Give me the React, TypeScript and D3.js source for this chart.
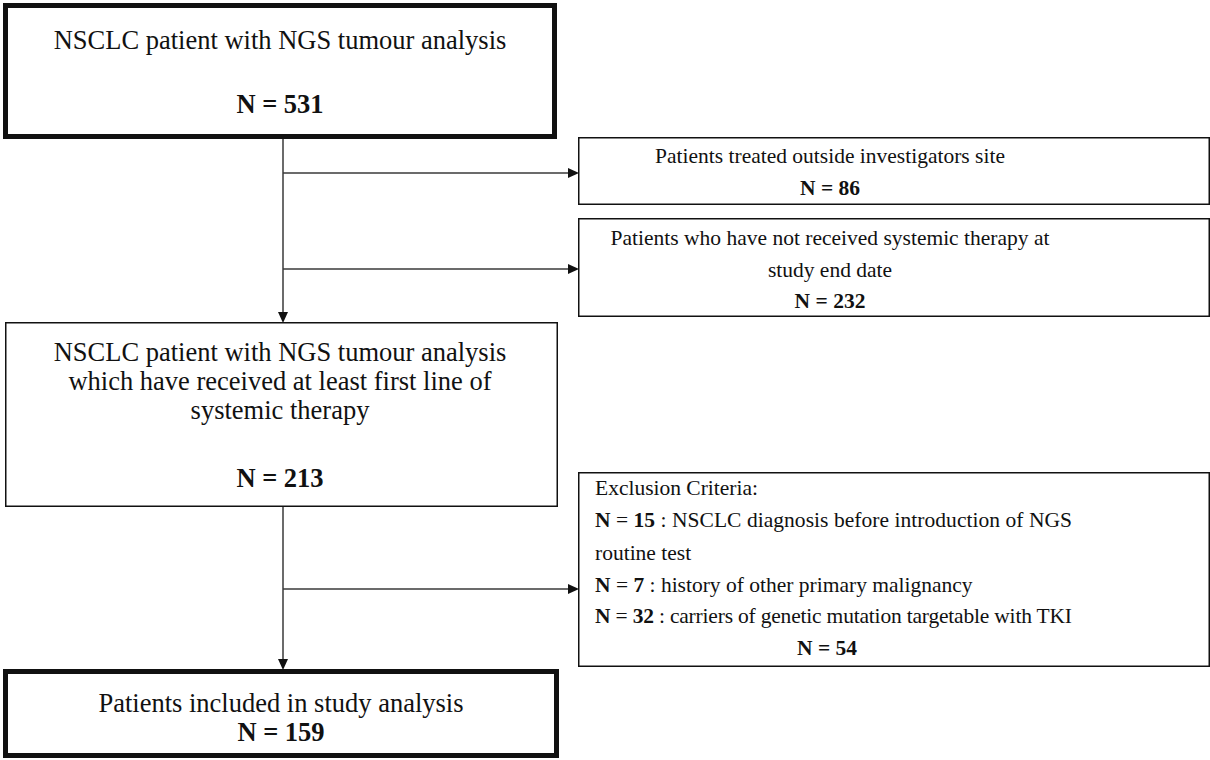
import {useEffect, useRef} from "react";
import * as d3 from "d3";

const WIDTH = 1210;
const HEIGHT = 760;

// main flow (left column)
const mainLabels = [
  ["NSCLC patient with NGS tumour analysis"],
  ["NSCLC patient with NGS tumour analysis", "which have received at least first line of", "systemic therapy"],
  ["Patients included in study analysis"],
];
const mainCounts = [531, 213, 159];

// exclusions (right column)
const exclusionLabels = [
  ["Patients treated outside investigators site"],
  ["Patients who have not received systemic therapy at", "study end date"],
];
const exclusionCounts = [86, 232];

const criteriaTitle = "Exclusion Criteria:";
const criteriaCounts = [15, 7, 32];
const criteriaLabels = [
  ["NSCLC diagnosis before introduction of NGS", "routine test"],
  ["history of other primary malignancy"],
  ["carriers of genetic mutation targetable with TKI"],
];
const criteriaTotal = 54;

const FONT = "'Liberation Serif', 'Times New Roman', serif";
const FS_MAIN = 26.5;
const FS_SIDE = 21.5;
const LINE = "#3a3a3a";

export default function App() {
  const svgRef = useRef<SVGSVGElement>(null);

  useEffect(() => {
    const svg = d3.select(svgRef.current);
    svg.selectAll("*").remove();

    const g = svg.append("g")
      .attr("font-family", FONT)
      .attr("fill", "#111");

    const box = (x0, y0, x1, y1, sw) =>
      g.append("rect")
        .attr("x", x0 + sw / 2)
        .attr("y", y0 + sw / 2)
        .attr("width", x1 - x0 - sw)
        .attr("height", y1 - y0 - sw)
        .attr("fill", "white")
        .attr("stroke", "#111")
        .attr("stroke-width", sw);

    const centered = (cx, lines, baselines, count, countY, fs) => {
      g.selectAll(null)
        .data(lines)
        .join("text")
        .attr("x", cx)
        .attr("y", (d, i) => baselines[i])
        .attr("font-size", fs)
        .attr("text-anchor", "middle")
        .text(d => d);
      g.append("text")
        .attr("x", cx)
        .attr("y", countY)
        .attr("font-size", fs)
        .attr("text-anchor", "middle")
        .attr("font-weight", "bold")
        .text(`N = ${count}`);
    };

    const arrowHead = (x, y, dir) => {
      const pts = dir === "down"
        ? [[x - 5, y - 11], [x + 5, y - 11], [x, y]]
        : [[x - 11, y - 5], [x - 11, y + 5], [x, y]];
      g.append("path")
        .attr("d", d3.line()(pts) + "Z")
        .attr("fill", "#111");
    };

    const trunkX = 283;
    const line = d3.line();

    // vertical trunk
    [[138, 323], [506, 670]].forEach(([a, b]) => {
      g.append("path").attr("d", line([[trunkX, a], [trunkX, b - 10]]))
        .attr("stroke", LINE).attr("stroke-width", 1.5).attr("fill", "none");
      arrowHead(trunkX, b, "down");
    });

    // side arrows
    [173, 269, 589].forEach(y => {
      g.append("path").attr("d", line([[trunkX, y], [569, y]]))
        .attr("stroke", LINE).attr("stroke-width", 1.5).attr("fill", "none");
      arrowHead(579, y, "right");
    });

    // main boxes
    box(3, 3, 557, 139, 5);
    centered(280, mainLabels[0], [49], mainCounts[0], 113, FS_MAIN);

    box(5, 322, 558, 507, 1.5);
    centered(280, mainLabels[1], [361, 390, 419], mainCounts[1], 487, FS_MAIN);

    box(3, 669, 559, 758, 5);
    centered(281, mainLabels[2], [712], mainCounts[2], 741, FS_MAIN);

    // exclusion boxes
    box(578, 137, 1210, 205, 1.5);
    centered(830, exclusionLabels[0], [163], exclusionCounts[0], 195, FS_SIDE);

    box(578, 218, 1210, 317, 1.5);
    centered(830, exclusionLabels[1], [245, 277], exclusionCounts[1], 308, FS_SIDE);

    box(578, 472, 1210, 667, 1.5);
    const tx = 595;
    const crit = g.append("g").attr("font-size", FS_SIDE);
    crit.append("text").attr("x", tx).attr("y", 495).text(criteriaTitle);
    const rowY = [[527, 560], [592], [623]];
    const justify = [true, false, true];
    criteriaCounts.forEach((c, i) => {
      const t = crit.append("text").attr("x", tx).attr("y", rowY[i][0]);
      if (justify[i]) t.attr("textLength", 477).attr("lengthAdjust", "spacing");
      t.append("tspan").attr("font-weight", "bold").text("N");
      t.append("tspan").text(" = ");
      t.append("tspan").attr("font-weight", "bold").text(c);
      t.append("tspan").text(" : " + criteriaLabels[i][0]);
      if (criteriaLabels[i][1]) {
        crit.append("text").attr("x", tx).attr("y", rowY[i][1]).text(criteriaLabels[i][1]);
      }
    });
    crit.append("text")
      .attr("x", 827).attr("y", 655)
      .attr("text-anchor", "middle")
      .attr("font-weight", "bold")
      .text(`N = ${criteriaTotal}`);
  }, []);

  return (
    <svg ref={svgRef} width={WIDTH} height={HEIGHT}
      style={{position: "absolute", left: 0, top: 0, background: "white"}} />
  );
}
